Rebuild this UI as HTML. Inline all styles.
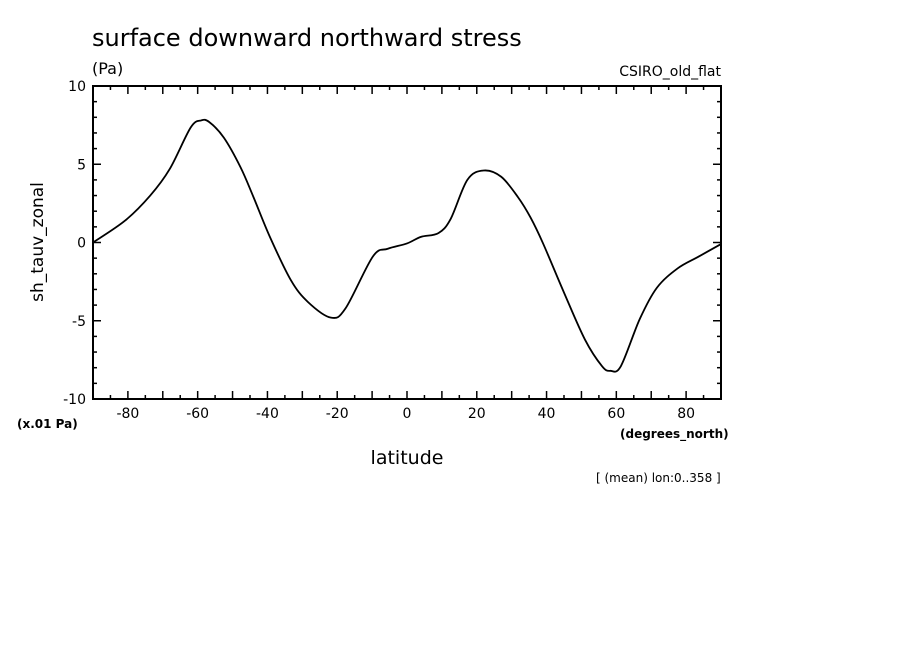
<!DOCTYPE html>
<html><head><meta charset="utf-8"><style>
body{margin:0;background:#fff;}
svg{display:block;font-family:"DejaVu Sans","Liberation Sans",sans-serif;}
</style></head><body>
<svg id="chart" width="904" height="654" viewBox="0 0 904 654">
<rect x="0" y="0" width="904" height="654" fill="#fff"/>
<text x="92" y="46" font-size="24">surface downward northward stress</text>
<text x="92" y="74" font-size="16">(Pa)</text>
<text x="721" y="76" font-size="14" text-anchor="end">CSIRO_old_flat</text>
<g id="axes"></g>
<path id="curve" fill="none" stroke="#000" stroke-width="1.8"/>
<rect x="93" y="86" width="628" height="313" fill="none" stroke="#000" stroke-width="2"/>
<text x="17" y="428" font-size="12" font-weight="bold">(x.01 Pa)</text>
<text x="620" y="438" font-size="12" font-weight="bold">(degrees_north)</text>
<text x="407" y="464" font-size="19" text-anchor="middle">latitude</text>
<text x="596" y="482" font-size="12">[ (mean) lon:0..358 ]</text>
<text transform="translate(43,242) rotate(-90)" font-size="17" text-anchor="middle">sh_tauv_zonal</text>
</svg>
<script>
var lats=[-90,-80.8,-73.6,-68,-62,-59,-56.7,-52.5,-47.7,-44,-39.3,-33.3,-28.4,-21.8,-17.6,-9.8,-5.5,0,4,9,12.5,17.3,22,27,31.8,35.4,39,45,51,55.9,58.3,61.3,66.7,71.6,77.6,83.6,90];
var vals=[0,1.4,3.0,4.7,7.35,7.8,7.7,6.7,4.8,2.9,0.36,-2.4,-3.8,-4.8,-4.2,-0.9,-0.4,-0.06,0.36,0.6,1.5,4.0,4.6,4.2,2.9,1.6,-0.06,-3.2,-6.2,-7.9,-8.2,-7.9,-4.9,-2.9,-1.65,-0.9,-0.1];
var xTicks=[-80,-60,-40,-20,0,20,40,60,80];
var yTicks=[-10,-5,0,5,10];
var X0=93,X1=721,Y0=399,Y1=86;
function xs(v){return X0+(v+90)/180*(X1-X0);}
function ys(v){return Y0-(v+10)/20*(Y0-Y1);}
var NS='http://www.w3.org/2000/svg';
var ax=document.getElementById('axes');
function addTick(x1,y1,x2,y2,name){
  var l=document.createElementNS(NS,'line');
  l.setAttribute('x1',x1);l.setAttribute('y1',y1);l.setAttribute('x2',x2);l.setAttribute('y2',y2);
  l.setAttribute('stroke','#000');l.setAttribute('stroke-width','1.5');
  
  
  ax.appendChild(l);
}
for(var dg=-85;dg<90;dg+=5){var x=xs(dg);var L=(dg%10===0)?8:4;addTick(x,Y0,x,Y0-L,'x-tick');addTick(x,Y1,x,Y1+L,'x-tick');}
for(var v=-9;v<10;v++){var y=ys(v);var L2=(v%5===0)?8:4;addTick(X0,y,X0+L2,y,'y-tick');addTick(X1,y,X1-L2,y,'y-tick');}
xTicks.forEach(function(t){
  var e=document.createElementNS(NS,'text');
  e.setAttribute('x',xs(t));e.setAttribute('y',Y0+19);e.setAttribute('font-size','14');e.setAttribute('text-anchor','middle');
  e.textContent=String(t);
  
  
  ax.appendChild(e);
});
yTicks.forEach(function(t){
  var e=document.createElementNS(NS,'text');
  e.setAttribute('x',86);e.setAttribute('y',ys(t)+5);e.setAttribute('font-size','14');e.setAttribute('text-anchor','end');
  e.textContent=String(t);
  
  
  ax.appendChild(e);
});
var P=lats.map(function(l,i){return [xs(l),ys(vals[i])];});
var d='M'+P[0][0]+' '+P[0][1];
for(var i=0;i<P.length-1;i++){
  var p0=P[Math.max(0,i-1)],p1=P[i],p2=P[i+1],p3=P[Math.min(P.length-1,i+2)];
  var c1x=p1[0]+(p2[0]-p0[0])/6,c1y=p1[1]+(p2[1]-p0[1])/6;
  var c2x=p2[0]-(p3[0]-p1[0])/6,c2y=p2[1]-(p3[1]-p1[1])/6;
  d+=' C'+c1x+' '+c1y+' '+c2x+' '+c2y+' '+p2[0]+' '+p2[1];
}
document.getElementById('curve').setAttribute('d',d);
</script>
</body></html>
